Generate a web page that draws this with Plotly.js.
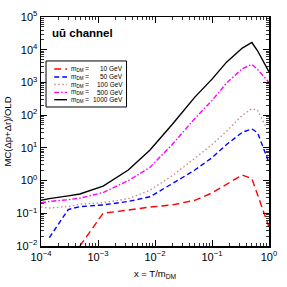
<!DOCTYPE html>
<html><head><meta charset="utf-8">
<script src="https://cdn.plot.ly/plotly-3.0.1.min.js"></script>
<style>html,body{margin:0;padding:0;background:#fff}#c{width:287px;height:287px}</style>
</head><body><div id="c"></div>
<script>
const xT = [1e-4, 1.4e-4, 3e-4, 4.8e-4, 1.23e-3, 3.4e-3, 8.1e-3, 2e-2, 5e-2, 0.1, 0.18, 0.34, 0.5, 0.63, 1.0];
const m10   = [null, null, null, 0.01, 0.1, 0.126, 0.155, 0.18, 0.25, 0.42, 0.76, 1.48, 1.15, 0.37, 0.038];
const m50   = [null, 0.018, 0.13, 0.16, 0.18, 0.23, 0.32, 0.8, 2.1, 5.0, 12.6, 30, 38, 29, 3.5];
const m100  = [0.155, 0.145, 0.16, 0.19, 0.21, 0.28, 0.5, 1.4, 4.8, 12.6, 32, 100, 158, 141, 28];
const m500  = [0.21, 0.23, 0.26, 0.29, 0.43, 1.0, 2.5, 12.6, 79, 280, 955, 2630, 3550, 2500, 1000];
const m1000 = [0.25, 0.28, 0.34, 0.39, 0.68, 2.1, 8.5, 52, 355, 1260, 4170, 11200, 16600, 9300, 2090];
const massLabels = ["10 GeV","50 GeV","100 GeV","500 GeV","1000 GeV"];
const xDecades = [-4,-3,-2,-1,0];
const yDecades = [-2,-1,0,1,2,3,4,5];
const series = [m10, m50, m100, m500, m1000];
const colors = ["#ff0000","#0000ff","#d08a8a","#ff00ff","#000000"];
const dashes = ["7px,4px","5px,3px","1.5px,2.5px","5px,2px,1.5px,2px","solid"];
const traces = series.map((y,i)=>({x:xT,y:y,mode:'lines',name:'m<sub>DM</sub> = '+massLabels[i],showlegend:false,
  line:{color:colors[i],dash:dashes[i],width:1.4},connectgaps:false}));
// invisible copy on the overlay axes so that they are drawn (major ticks)
traces.push({x:xT,y:m1000,xaxis:'x2',yaxis:'y2',mode:'lines',showlegend:false,hoverinfo:'skip',opacity:0,line:{width:0}});
function allTicks(decs){const v=[],t=[];decs.forEach((d,j)=>{v.push(Math.pow(10,d));t.push('10<sup>'+(d<0?'−'+(-d):d)+'</sup>');
  if(j<decs.length-1){for(let k=2;k<=9;k++){v.push(k*Math.pow(10,d));t.push('');}}});return {v,t};}
const xt=allTicks(xDecades), yt=allTicks(yDecades);
const F='Liberation Sans, Arial';
const base = {type:'log',showgrid:false,zeroline:false,showline:true,linecolor:'#000',linewidth:1.5,
  mirror:'allticks',ticks:'inside',tickcolor:'#000',tickmode:'array'};
const layout = {
  width:287,height:287,margin:{l:41,r:18,t:17,b:41},paper_bgcolor:'#fff',plot_bgcolor:'#fff',
  font:{family:F,color:'#000',size:10},
  xaxis:Object.assign({},base,{range:[-4,0],tickvals:xt.v,ticktext:xt.t,ticklen:3,tickwidth:0.8,
    tickfont:{family:F,size:11,color:'#000'},title:{text:'x = T/m<sub>DM</sub>',font:{family:F,size:9.5},standoff:8}}),
  yaxis:Object.assign({},base,{range:[-2,5],tickvals:yt.v,ticktext:yt.t,ticklen:3,tickwidth:0.8,
    tickfont:{family:F,size:11,color:'#000'},title:{text:'MC(Δp+Δr)/OLD',font:{family:F,size:9.5},standoff:3}}),
  xaxis2:Object.assign({},base,{overlaying:'x',anchor:'y2',side:'bottom',range:[-4,0],
    tickvals:xDecades.map(d=>Math.pow(10,d)),ticklen:6,tickwidth:1,showticklabels:false}),
  yaxis2:Object.assign({},base,{overlaying:'y',anchor:'x2',side:'left',range:[-2,5],
    tickvals:yDecades.map(d=>Math.pow(10,d)),ticklen:6,tickwidth:1,showticklabels:false}),
  showlegend:false
};
// custom legend (paper coordinates)
const rows=[0.773,0.738,0.705,0.671,0.639];
const shapes=[{type:'rect',xref:'paper',yref:'paper',x0:0.022,x1:0.375,y0:0.607,y1:0.808,line:{color:'#000',width:1},fillcolor:'#fff',layer:'above'}];
const annotations=[{xref:'paper',yref:'paper',x:0.04,y:0.93,xanchor:'left',yanchor:'middle',showarrow:false,
    text:'<b>uū channel</b>',font:{family:F,size:11.5,color:'#000'}}];
rows.forEach((ry,i)=>{
  shapes.push({type:'line',xref:'paper',yref:'paper',x0:0.058,x1:0.114,y0:ry,y1:ry,layer:'above',
    line:{color:colors[i],width:1.4,dash:dashes[i]}});
  annotations.push({xref:'paper',yref:'paper',x:0.122,y:ry,xanchor:'left',yanchor:'middle',showarrow:false,
    text:'m<sub>DM</sub> =',font:{family:F,size:6.5,color:'#000'}});
  annotations.push({xref:'paper',yref:'paper',x:0.368,y:ry,xanchor:'right',yanchor:'middle',showarrow:false,
    text:massLabels[i],font:{family:F,size:6.5,color:'#000'}});
});
layout.shapes=shapes; layout.annotations=annotations;
Plotly.newPlot('c',traces,layout,{staticPlot:true,displayModeBar:false});
</script></body></html>
